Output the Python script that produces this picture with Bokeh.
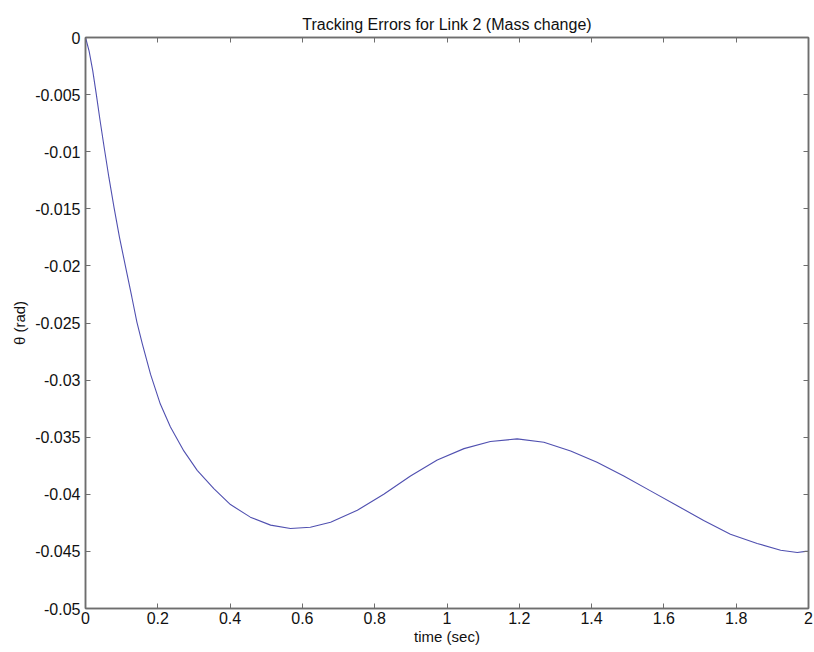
from bokeh.plotting import figure
from bokeh.models import LinearAxis, FixedTicker, Range1d
from bokeh.embed import file_html
from bokeh.resources import INLINE

# data
time_s = [0.0, 0.010, 0.020, 0.030, 0.040, 0.052, 0.065, 0.079, 0.094, 0.111,
          0.128, 0.142, 0.157, 0.180, 0.207, 0.235, 0.272, 0.309, 0.355, 0.401,
          0.456, 0.512, 0.567, 0.622, 0.678, 0.752, 0.825, 0.899, 0.973, 1.047,
          1.120, 1.194, 1.268, 1.342, 1.415, 1.489, 1.563, 1.637, 1.710, 1.784,
          1.858, 1.923, 1.969, 1.992, 2.0]
theta_err = [0.0, -0.0012, -0.0029, -0.0050, -0.0072, -0.0097, -0.0123, -0.0149, -0.0175, -0.0201,
             -0.0227, -0.0249, -0.0268, -0.0295, -0.0321, -0.0341, -0.0362, -0.0379, -0.0395, -0.0409,
             -0.0420, -0.0427, -0.0430, -0.04288, -0.04244, -0.0414, -0.0400, -0.0384, -0.0370, -0.0360,
             -0.03538, -0.03515, -0.03544, -0.0362, -0.0372, -0.0384, -0.0397, -0.0410, -0.0423, -0.0435,
             -0.0443, -0.0449, -0.0451, -0.0450, -0.0450]
x_ticks = [0, 0.2, 0.4, 0.6, 0.8, 1, 1.2, 1.4, 1.6, 1.8, 2]
y_ticks = [0, -0.005, -0.01, -0.015, -0.02, -0.025, -0.03, -0.035, -0.04, -0.045, -0.05]
x_labels = {0: "0", 0.2: "0.2", 0.4: "0.4", 0.6: "0.6", 0.8: "0.8", 1: "1", 1.2: "1.2",
            1.4: "1.4", 1.6: "1.6", 1.8: "1.8", 2: "2"}
y_labels = {0: "0", -0.005: "-0.005", -0.01: "-0.01", -0.015: "-0.015", -0.02: "-0.02",
            -0.025: "-0.025", -0.03: "-0.03", -0.035: "-0.035", -0.04: "-0.04",
            -0.045: "-0.045", -0.05: "-0.05"}

FONT = "Liberation Sans"
AX = "#6e6e6e"

p = figure(width=814, height=652, output_backend="svg", toolbar_location=None,
           x_range=Range1d(0, 2), y_range=Range1d(-0.05, 0),
           min_border_left=85, min_border_right=6, min_border_top=37, min_border_bottom=44,
           title="Tracking Errors for Link 2 (Mass change)")
p.title.align = "center"
p.title.text_font = FONT
p.title.text_font_size = "16px"
p.title.text_font_style = "normal"
p.title.text_color = "#111111"
p.grid.visible = False
p.outline_line_color = AX
p.outline_line_width = 1.5
p.background_fill_color = "white"
p.border_fill_color = "white"

def style(ax, labels=True):
    ax.axis_line_color = AX
    ax.axis_line_width = 1.5
    ax.major_tick_in = 5
    ax.major_tick_out = 0
    ax.major_tick_line_color = AX
    ax.minor_tick_line_color = None
    ax.major_label_text_font = FONT
    ax.major_label_text_font_size = "16px"
    ax.major_label_text_color = "#111111"
    ax.axis_label_text_font = FONT
    ax.axis_label_text_font_size = "15px"
    ax.axis_label_text_font_style = "normal"
    ax.axis_label_text_color = "#111111"
    if not labels:
        ax.major_label_text_font_size = "1px"
        ax.major_label_text_color = None
        ax.major_label_standoff = 0

p.xaxis.ticker = FixedTicker(ticks=x_ticks)
p.yaxis.ticker = FixedTicker(ticks=y_ticks)
p.xaxis.major_label_overrides = x_labels
p.yaxis.major_label_overrides = y_labels
p.xaxis.axis_label = "time (sec)"
p.yaxis.axis_label = "θ (rad)"
p.xaxis.major_label_standoff = 3
p.yaxis.major_label_standoff = 5
p.xaxis.axis_label_standoff = 1
p.yaxis.axis_label_standoff = 4
style(p.xaxis[0])
style(p.yaxis[0])

top = LinearAxis(ticker=FixedTicker(ticks=x_ticks))
right = LinearAxis(ticker=FixedTicker(ticks=y_ticks))
style(top, False)
style(right, False)
p.add_layout(top, "above")
p.add_layout(right, "right")

p.line(time_s, theta_err, line_color="#5050b0", line_width=1.1)

open("out.html", "w").write(file_html(p, INLINE))
